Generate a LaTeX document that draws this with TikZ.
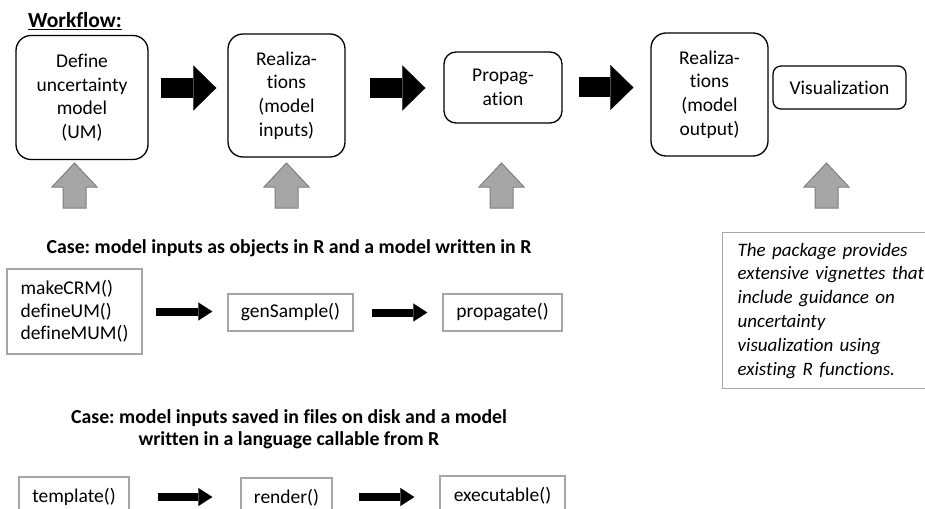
\documentclass[tikz,border=0pt]{standalone}
\usepackage{fontspec}
\setmainfont{Carlito}[Ligatures=NoCommon]
\usetikzlibrary{arrows.meta,calc}
\definecolor{cbox}{RGB}{166,166,166}
\definecolor{garrfill}{RGB}{166,166,166}
\definecolor{garrline}{RGB}{127,127,127}
\newcommand\grayup[1]{\draw[garr] (#1) ++(-11.5,0) -- ++(0,-21) -- ++(-11,0) -- ++(22.5,-24) -- ++(22.5,24) -- ++(-11,0) -- ++(0,21) -- cycle;}
\frenchspacing
\begin{document}
\begin{tikzpicture}[x=1pt,y=-1pt,
  flow/.style={draw=black, line width=1.3pt, rounded corners=15pt, align=center, inner sep=0pt, font=\fontsize{19.5}{23.7}\selectfont},
  code/.style={draw=cbox, line width=1.4pt, inner sep=0pt, font=\fontsize{19.5}{22.5}\selectfont},
  bigarr/.style={line width=20pt, -{Triangle[width=45pt,length=23pt,line width=0.1pt]}},
  smallarr/.style={line width=8pt, -{Triangle[width=18pt,length=14pt,line width=0.1pt]}},
  garr/.style={fill=garrfill, draw=garrline, line width=1pt},
  casetxt/.style={font=\bfseries\fontsize{19.8}{22}\selectfont, align=center, inner sep=0pt},
]
\clip (0,0) rectangle (925,508);

\node[anchor=base west, inner sep=0pt, font=\bfseries\fontsize{21.5}{24}\selectfont] (wf) at (28,28) {\underline{Workflow:}};

\node[flow, minimum width=132pt, minimum height=124pt] (b1) at (82,97.5) {Define\\uncertainty\\model\\(UM)};
\node[flow, minimum width=117pt, minimum height=123pt] (b2) at (286.5,95.5) {Realiza-\\tions\\(model\\inputs)};
\node[flow, rounded corners=12pt, minimum width=118pt, minimum height=71pt] (b3) at (503,87.5) {Propag-\\ation};
\node[flow, minimum width=117pt, minimum height=123pt] (b4) at (709.5,94.5) {Realiza-\\tions\\(model\\output)};
\node[flow, rounded corners=8pt, minimum width=133pt, minimum height=43pt] (b5) at (839.5,87.5) {Visualization};

\coordinate (ay) at (0,88);
\coordinate (ay3) at (0,87.5);
\draw[bigarr, shorten <=12pt, shorten >=11pt] (b1.east |- ay) -- (b2.west |- ay);
\draw[bigarr, shorten <=24pt, shorten >=18pt] (b2.east |- ay) -- (b3.west |- ay);
\draw[bigarr, shorten <=16pt, shorten >=17pt] (b3.east |- ay3) -- (b4.west |- ay3);

\coordinate (g1) at (74.5,208);
\coordinate (g2) at (286.5,208);
\coordinate (g3) at (501.5,208);
\coordinate (g4) at (826.5,208);
\grayup{g1}
\grayup{g2}
\grayup{g3}
\grayup{g4}

\node[casetxt, anchor=base] (c1) at (289,253) {Case: model inputs as objects in R and a model written in R};

\node[code, minimum width=135pt, minimum height=85pt, align=left] (mk) at (74.5,311.5) {makeCRM()\\defineUM()\\defineMUM()};
\node[code, minimum width=125pt, minimum height=37pt] (gs) at (290.5,312.5) {genSample()};
\node[code, minimum width=119pt, minimum height=37pt] (pr) at (502.5,312.5) {propagate()};
\draw[smallarr, shorten <=13pt, shorten >=15pt] (mk.east) -- (mk.east -| gs.west);
\draw[smallarr, shorten <=18pt, shorten >=15pt] (gs.east) -- (gs.east -| pr.west);

\node[casetxt, anchor=base] (c2) at (289,445) {Case: model inputs saved in files on disk and a model\\written in a language callable from R};

\node[code, minimum width=110pt, minimum height=40pt] (tp) at (74,497) {template()};
\node[code, minimum width=91pt, minimum height=40pt] (rd) at (286.5,498) {render()};
\node[code, minimum width=125pt, minimum height=40pt] (ex) at (502.5,496) {executable()};
\coordinate (ry) at (0,497);
\draw[smallarr, shorten <=28pt, shorten >=28pt] (tp.east |- ry) -- (rd.west |- ry);
\draw[smallarr, shorten <=26pt, shorten >=25pt] (rd.east |- ry) -- (ex.west |- ry);

\node[code, anchor=north west, inner xsep=15pt, inner ysep=0pt, text width=200pt, minimum height=156pt, align=left, font=\itshape\fontsize{19}{23.8}\selectfont] (note) at (722,232) {The package provides\\extensive vignettes that\\include guidance on\\uncertainty\\visualization using\\existing R functions.};
\end{tikzpicture}
\end{document}
